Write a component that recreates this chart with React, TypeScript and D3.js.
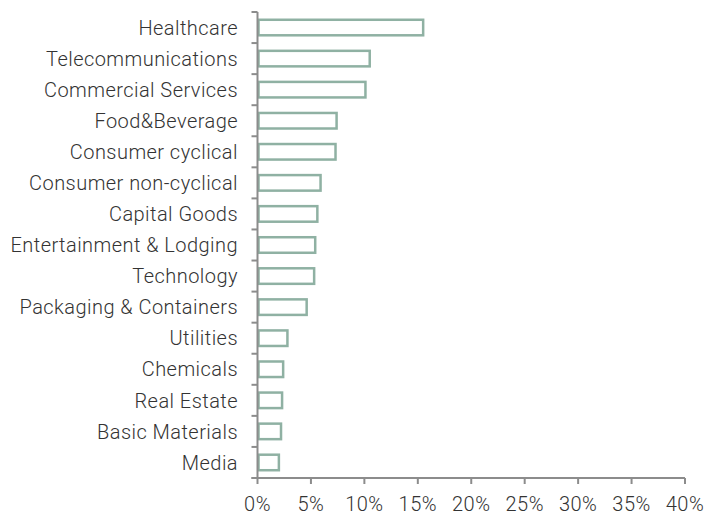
import React from "react";
import * as d3 from "d3";

const categories = [
  "Healthcare",
  "Telecommunications",
  "Commercial Services",
  "Food&Beverage",
  "Consumer cyclical",
  "Consumer non-cyclical",
  "Capital Goods",
  "Entertainment & Lodging",
  "Technology",
  "Packaging & Containers",
  "Utilities",
  "Chemicals",
  "Real Estate",
  "Basic Materials",
  "Media",
];
const values = [15.5, 10.5, 10.1, 7.4, 7.3, 5.9, 5.6, 5.4, 5.3, 4.6, 2.8, 2.4, 2.3, 2.2, 2.0];
const xTicks = [0, 5, 10, 15, 20, 25, 30, 35, 40];

const W = 708;
const H = 515;
const left = 257.5;
const right = 685;
const top = 12;
const bottom = 478;
const font = "Roboto, sans-serif";

export default function App() {
  const x = d3.scaleLinear().domain([0, 40]).range([left, right]);
  const y = d3.scaleBand<string>().domain(categories).range([top, bottom]).paddingInner(0.5).paddingOuter(0.25);
  const bandStep = y.step();
  const tickYs = d3.range(categories.length + 1).map((i) => top + i * bandStep);
  const axisColor = "#8c8c8c";
  const barColor = "#8fb1a3";
  return (
    <svg width={W} height={H} style={{ position: "absolute", left: 0, top: 0 }}>
      <rect width={W} height={H} fill="#fff" />
      {categories.map((c, i) => (
        <rect
          key={c}
          x={x(0) + 1}
          y={y(c)!}
          width={x(values[i]) - x(0) - 1}
          height={y.bandwidth()}
          fill="#fff"
          stroke={barColor}
          strokeWidth={2.5}
        />
      ))}
      {/* y axis */}
      <line x1={left} x2={left} y1={top} y2={bottom} stroke={axisColor} strokeWidth={2} />
      {tickYs.map((ty, i) => (
        <line key={i} x1={left - 6} x2={left} y1={ty} y2={ty} stroke={axisColor} strokeWidth={2} />
      ))}
      {/* x axis */}
      <line x1={left - 6} x2={right} y1={bottom} y2={bottom} stroke={axisColor} strokeWidth={2} />
      {xTicks.map((t) => (
        <g key={t}>
          <line x1={x(t)} x2={x(t)} y1={bottom} y2={bottom + 6} stroke={axisColor} strokeWidth={2} />
          <text
            x={x(t)}
            y={bottom + 33}
            textAnchor="middle"
            fontFamily={font}
            fontWeight={300}
            fontSize={20}
            letterSpacing={0.5}
            fill="#333"
          >
            {t}%
          </text>
        </g>
      ))}
      {categories.map((c) => (
        <text
          key={c}
          x={238}
          y={y(c)! + y.bandwidth() / 2}
          dy="0.36em"
          textAnchor="end"
          fontFamily={font}
          fontWeight={300}
          fontSize={20}
          letterSpacing={0.45}
          fill="#333"
        >
          {c}
        </text>
      ))}
    </svg>
  );
}
